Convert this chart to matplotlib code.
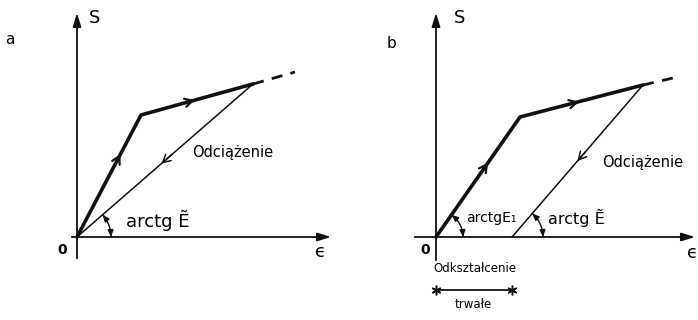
import numpy as np
import matplotlib.pyplot as plt

# Loading path (strain, stress) for both diagrams
eps_a = [0, 64, 176]
sig_a = [0, 122, 153]
eps_a_ext = [176, 218]
sig_a_ext = [153, 165]
unload_eps_a = [176, 0]
unload_sig_a = [153, 0]

eps_b = [0, 84, 207]
sig_b = [0, 120, 152]
eps_b_ext = [207, 237]
sig_b_ext = [152, 159]
unload_eps_b = [207, 76]
unload_sig_b = [152, 0]

INK = '#111111'


def mid_arrow(ax, xs, ys, frac, lw):
    """ Small open arrowhead placed along a segment. """
    x0, x1 = xs
    y0, y1 = ys
    t0, t1 = frac - 0.06, frac
    p0 = (x0 + (x1 - x0) * t0, y0 + (y1 - y0) * t0)
    p1 = (x0 + (x1 - x0) * t1, y0 + (y1 - y0) * t1)
    ax.annotate('', xy=p1, xytext=p0,
                arrowprops=dict(arrowstyle='->,head_length=0.55,head_width=0.3',
                                color=INK, lw=lw, shrinkA=0, shrinkB=0))


def angle_arc(ax, origin, slope_pt, r):
    """ Circular arc with arrowheads at both ends between x axis and a line. """
    ox, oy = origin
    ang = np.arctan2(slope_pt[1] - oy, slope_pt[0] - ox)
    th = np.linspace(0, ang, 40)
    xs = ox + r * np.cos(th)
    ys = oy + r * np.sin(th)
    ax.plot(xs, ys, color=INK, lw=1.0)
    head = dict(arrowstyle='-|>,head_length=0.4,head_width=0.17',
                color=INK, lw=1.0, shrinkA=0, shrinkB=0)
    ax.annotate('', xy=(xs[0], ys[0]), xytext=(xs[6], ys[6]), arrowprops=head)
    ax.annotate('', xy=(xs[-1], ys[-1]), xytext=(xs[-7], ys[-7]), arrowprops=head)


def draw_axes(ax, x0, x1, ybot, ytop):
    ax.plot([x0, x1], [0, 0], color=INK, lw=1.3)
    ax.plot([0, 0], [ybot, ytop], color=INK, lw=1.3)
    ax.annotate('', xy=(x1 + 4, 0), xytext=(x1 - 10, 0),
                arrowprops=dict(arrowstyle='-|>,head_length=0.8,head_width=0.25',
                                color=INK, lw=1.3, shrinkA=0, shrinkB=0))
    ax.annotate('', xy=(0, ytop + 4), xytext=(0, ytop - 10),
                arrowprops=dict(arrowstyle='-|>,head_length=0.8,head_width=0.25',
                                color=INK, lw=1.3, shrinkA=0, shrinkB=0))


fig = plt.figure(figsize=(6.98, 3.2), dpi=100)
ax_a = fig.add_axes([0, 0, 349 / 698, 1])
ax_b = fig.add_axes([350 / 698, 0, 348 / 698, 1])

ax_a.set_xlim(-77, 272)
ax_a.set_ylim(-83, 237)
ax_b.set_xlim(-86, 262)
ax_b.set_ylim(-83, 237)
for ax in (ax_a, ax_b):
    ax.axis('off')

# --- diagram a ---
draw_axes(ax_a, -5, 250, -21, 220)
ax_a.plot(eps_a, sig_a, color=INK, lw=2.6, solid_capstyle='round')
ax_a.plot(eps_a_ext, sig_a_ext, color=INK, lw=2.0, dashes=(4, 3))
ax_a.plot(unload_eps_a, unload_sig_a, color=INK, lw=1.1)
mid_arrow(ax_a, eps_a[:2], sig_a[:2], 0.68, 1.6)
mid_arrow(ax_a, eps_a[1:], sig_a[1:], 0.48, 1.6)
mid_arrow(ax_a, unload_eps_a, unload_sig_a, 0.52, 1.1)
angle_arc(ax_a, (0, 0), (unload_eps_a[0], unload_sig_a[0]), 34)

ax_a.text(-67, 197, 'a', fontsize=11, ha='center', va='center')
ax_a.text(12, 219, 'S', fontsize=13, ha='left', va='center')
ax_a.text(-15, -13, '0', fontsize=10, fontweight='bold', ha='center', va='center')
ax_a.text(243, -15, 'ϵ', fontsize=13, ha='center', va='center')
ax_a.text(115, 84, 'Odciążenie', fontsize=10.5, ha='left', va='center')
ax_a.text(49, 17, 'arctg Ẽ', fontsize=13, ha='left', va='center')

# --- diagram b ---
draw_axes(ax_b, -21, 255, -23, 220)
ax_b.plot(eps_b, sig_b, color=INK, lw=2.6, solid_capstyle='round')
ax_b.plot(eps_b_ext, sig_b_ext, color=INK, lw=2.0, dashes=(4, 3))
ax_b.plot(unload_eps_b, unload_sig_b, color=INK, lw=1.1)
mid_arrow(ax_b, eps_b[:2], sig_b[:2], 0.62, 1.6)
mid_arrow(ax_b, eps_b[1:], sig_b[1:], 0.48, 1.6)
mid_arrow(ax_b, unload_eps_b, unload_sig_b, 0.5, 1.1)
angle_arc(ax_b, (0, 0), (eps_b[1], sig_b[1]), 27)
angle_arc(ax_b, (unload_eps_b[1], 0), (unload_eps_b[0], unload_sig_b[0]), 31)

# permanent strain bracket
perm = [0, unload_eps_b[1]]
ax_b.plot(perm, [-53, -53], color=INK, lw=1.3, marker=(6, 2, 0), markersize=7,
          markeredgewidth=1.1)

ax_b.text(-44, 193, 'b', fontsize=11, ha='center', va='center')
ax_b.text(18, 219, 'S', fontsize=13, ha='left', va='center')
ax_b.text(-11, -13, '0', fontsize=10, fontweight='bold', ha='center', va='center')
ax_b.text(251, -16, 'ϵ', fontsize=13, ha='left', va='center')
ax_b.text(166, 74, 'Odciążenie', fontsize=10.5, ha='left', va='center')
ax_b.text(30, 19, 'arctgE₁', fontsize=10, ha='left', va='center')
ax_b.text(112, 19, 'arctg Ẽ', fontsize=11.5, ha='left', va='center')
ax_b.text(-3, -31, 'Odkształcenie', fontsize=8.5, ha='left', va='center')
ax_b.text(37, -68, 'trwałe', fontsize=8.5, ha='center', va='center')

fig.savefig('out.png', dpi=100)
